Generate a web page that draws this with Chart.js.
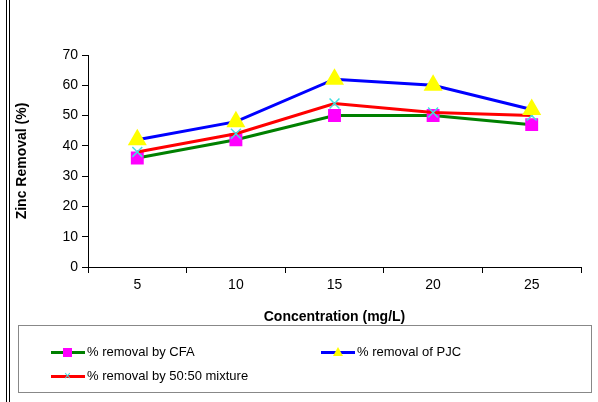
<!DOCTYPE html>
<html>
<head>
<meta charset="utf-8">
<script src="https://cdn.jsdelivr.net/npm/chart.js@4"></script>
<style>
  body { margin: 0; background: #fff; font-family: Arial, "Liberation Sans", sans-serif; }
  #frame { position: absolute; left: 6px; top: 0; width: 600px; height: 402px; border-left: 4px double #000; }
  #wrap { position: absolute; left: 10px; top: 10px; width: 582px; height: 320px; }
  #legend { position: absolute; left: 18px; top: 325px; width: 572px; height: 66px; border: 1px solid #888; font-size: 13px; color: #000; }
  .item { position: absolute; display: flex; align-items: center; }
  .key { position: relative; width: 34px; height: 12px; margin-right: 2px; }
  .key .ln { position: absolute; left: 0; right: 0; top: 5px; height: 3px; }
  .key .mk { position: absolute; }
</style>
</head>
<body>
<div id="frame"></div>
<div id="wrap"><canvas id="c"></canvas></div>
<div id="legend">
  <div class="item" style="left:32px;top:18px"><span class="key"><span class="ln" style="background:#008000"></span><span class="mk" style="width:9px;height:9px;background:#ff00ff;left:12px;top:2px"></span></span>% removal by CFA</div>
  <div class="item" style="left:302px;top:18px"><span class="key"><span class="ln" style="background:#0000ff"></span><span class="mk" style="width:0;height:0;border-left:5px solid transparent;border-right:5px solid transparent;border-bottom:9px solid #ffff00;left:12px;top:1px"></span></span>% removal of PJC</div>
  <div class="item" style="left:32px;top:42px"><span class="key"><span class="ln" style="background:#ff0000"></span><span class="mk" style="color:#40e0e0;font-size:12px;line-height:12px;left:13px;top:0">×</span></span>% removal by 50:50 mixture</div>
</div>
<script>
const categories = ['5', '10', '15', '20', '25'];
const cfa = [36, 42, 50, 50, 47];
const pjc = [42, 48, 62, 60, 52];
const mixture = [38, 44, 54, 51, 50];

new Chart(document.getElementById('c'), {
  type: 'line',
  data: {
    labels: categories,
    datasets: [
      { label: '% removal of PJC', data: pjc, borderColor: '#0000ff', borderWidth: 3,
        pointStyle: 'triangle', pointRadius: 8, pointBackgroundColor: '#ffff00', pointBorderColor: '#ffff00' },
      { label: '% removal by 50:50 mixture', data: mixture, borderColor: '#ff0000', borderWidth: 3,
        pointStyle: 'crossRot', pointRadius: 7, pointBorderColor: '#40e0e0', pointBorderWidth: 1.5 },
      { label: '% removal by CFA', data: cfa, borderColor: '#008000', borderWidth: 3,
        pointStyle: 'rect', pointRadius: 7, pointBackgroundColor: '#ff00ff', pointBorderColor: '#ff00ff' }
    ]
  },
  options: {
    responsive: true,
    maintainAspectRatio: false,
    animation: false,
    layout: { padding: { top: 45, right: 2 } },
    plugins: { legend: { display: false }, tooltip: { enabled: false } },
    scales: {
      x: {
        offset: true,
        grid: { display: true, drawOnChartArea: false, drawTicks: true, tickLength: 6, offset: true, color: '#000' },
        border: { color: '#000' },
        ticks: { color: '#000', font: { size: 14 }, padding: 4 },
        title: { display: true, text: 'Concentration (mg/L)', color: '#000', font: { size: 14, weight: 'bold' } },
        afterFit: s => { s.height = 63; }
      },
      y: {
        min: 0, max: 70,
        grid: { display: true, drawOnChartArea: false, tickLength: 6, color: '#000' },
        border: { color: '#000' },
        ticks: { stepSize: 10, color: '#000', font: { size: 14 }, padding: 4 },
        title: { display: true, text: 'Zinc Removal (%)', color: '#000', font: { size: 14, weight: 'bold' } },
        afterFit: s => { s.width = 78; }
      }
    }
  }
});
</script>
</body>
</html>
